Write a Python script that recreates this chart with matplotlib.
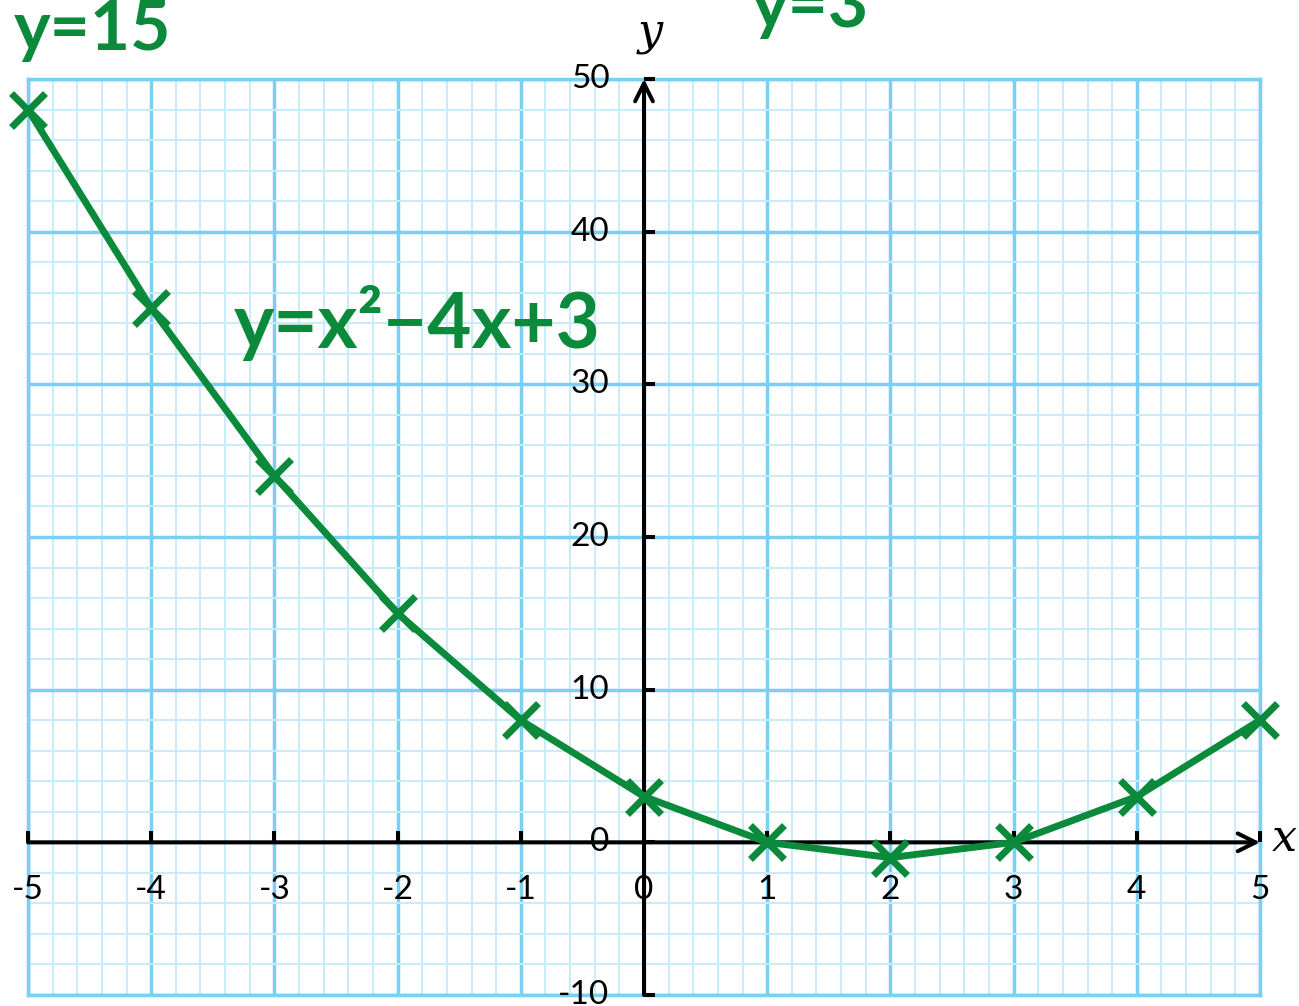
import matplotlib
matplotlib.use("Agg")
import matplotlib.pyplot as plt
import matplotlib.markers as mmarkers

# ---- data ----
x_vals = [-5, -4, -3, -2, -1, 0, 1, 2, 3, 4, 5]
y_vals = [48, 35, 24, 15, 8, 3, 0, -1, 0, 3, 8]
x_ticks = [-5, -4, -3, -2, -1, 0, 1, 2, 3, 4, 5]
y_ticks = [-10, 0, 10, 20, 30, 40, 50]
x_minor = [round(v * 0.2, 1) for v in range(-25, 26)]
y_minor = list(range(-10, 51, 2))
curve_label = "y=x²−4x+3"
note_left = "y=15"
note_top = "y=3"

GREEN = "#0a8a3a"
MAJOR = "#79CFF4"
MINOR = "#C8ECFB"

W, H = 1299, 1006
fig = plt.figure(figsize=(W / 100, H / 100), dpi=100)
ax = fig.add_axes([28 / W, 11 / H, (1260 - 28) / W, (995 - 79) / H])
ax.set_xlim(-5, 5)
ax.set_ylim(-10, 50)

# grid
ax.set_xticks(x_ticks)
ax.set_yticks(y_ticks)
ax.set_xticks(x_minor, minor=True)
ax.set_yticks(y_minor, minor=True)
ax.grid(which="minor", color=MINOR, linewidth=1.4, zorder=0)
ax.grid(which="major", color=MAJOR, linewidth=2.5, zorder=0.5)
ax.tick_params(which="both", length=0, labelbottom=False, labelleft=False)
ax.set_axisbelow(True)
for s in ax.spines.values():
    s.set_color(MAJOR)
    s.set_linewidth(2.5)

# black axes with arrows
ax.annotate("", xy=(5, 0), xytext=(-5, 0),
            arrowprops=dict(arrowstyle="->", lw=2.9, color="black",
                            mutation_scale=32, shrinkA=0, shrinkB=0),
            zorder=3, annotation_clip=False)
ax.annotate("", xy=(0, 50), xytext=(0, -10),
            arrowprops=dict(arrowstyle="->", lw=2.9, color="black",
                            mutation_scale=32, shrinkA=0, shrinkB=0),
            zorder=3, annotation_clip=False)

# tick stubs
ax.plot(x_ticks, [0] * len(x_ticks), linestyle="none",
        marker=mmarkers.TICKUP, markersize=8, mew=2.9, color="black",
        zorder=3, clip_on=False)
ax.plot([0] * len(y_ticks), y_ticks, linestyle="none",
        marker=mmarkers.TICKRIGHT, markersize=8, mew=2.9, color="black",
        zorder=3, clip_on=False)

# tick labels
for xv in x_ticks:
    ax.annotate(str(xv), xy=(xv, 0), xytext=(0, -34), textcoords="offset points",
                ha="center", va="center", fontsize=24, family="Lato",
                annotation_clip=False, zorder=4)
for yv in y_ticks:
    ax.annotate(str(yv), xy=(0, yv), xytext=(-25, 0), textcoords="offset points",
                ha="right", va="center", fontsize=24, family="Lato",
                annotation_clip=False, zorder=4)

# axis letters
fig.text(650 / W, 1 - 32 / H, "y", fontsize=32, family="DejaVu Serif",
         style="italic", ha="center", va="center")
fig.text(1284 / W, 1 - 838 / H, "x", fontsize=32, family="DejaVu Serif",
         style="italic", ha="center", va="center")

# curve and markers
ax.plot(x_vals, y_vals, color=GREEN, linewidth=5, solid_capstyle="round",
        solid_joinstyle="round", zorder=5, clip_on=False)
ax.plot(x_vals, y_vals, linestyle="none", marker="x", markersize=24,
        mew=5, color=GREEN, zorder=6, clip_on=False)

# handwritten-style notes
ax.text(-3.33, 32.4, curve_label, color=GREEN, fontsize=55, family="Lato",
        fontweight="bold", ha="left", va="baseline", zorder=7)
fig.text(14 / W, 1 - 50 / H, note_left, color=GREEN, fontsize=50, family="Lato",
         fontweight="bold", ha="left", va="baseline")
fig.text(752 / W, 1 - 27 / H, note_top, color=GREEN, fontsize=50, family="Lato",
         fontweight="bold", ha="left", va="baseline")

fig.savefig("out.png", dpi=100)
